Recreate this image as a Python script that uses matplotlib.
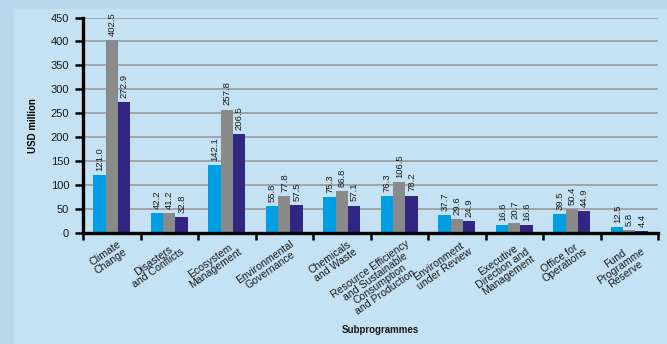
import numpy as np
import matplotlib
matplotlib.use("Agg")
import matplotlib.pyplot as plt
from matplotlib.patches import Rectangle
from matplotlib.transforms import offset_copy

plt.rcParams['font.family'] = ['Liberation Sans', 'DejaVu Sans']

categories = [
    "Climate\nChange",
    "Disasters\nand Conflicts",
    "Ecosystem\nManagement",
    "Environmental\nGovernance",
    "Chemicals\nand Waste",
    "Resource Efficiency\nand Sustainable\nConsumption\nand Production",
    "Environment\nunder Review",
    "Executive\nDirection and\nManagement",
    "Office for\nOperations",
    "Fund\nProgramme\nReserve",
]
series_blue = [121.0, 42.2, 142.1, 55.8, 75.3, 76.3, 37.7, 16.6, 39.5, 12.5]
series_gray = [402.5, 41.2, 257.8, 77.8, 86.8, 106.5, 29.6, 20.7, 50.4, 5.8]
series_dark = [272.9, 32.8, 206.5, 57.5, 57.1, 78.2, 24.9, 16.6, 44.9, 4.4]
y_ticks = [0, 50, 100, 150, 200, 250, 300, 350, 400, 450]

W, H = 667, 344
fig = plt.figure(figsize=(W / 100, H / 100), dpi=100)
fig.patch.set_facecolor('#b8d7ea')

# panel with soft shadow on top and left edges
for i, a in enumerate([0.25, 0.35, 0.5, 0.7]):
    fig.add_artist(Rectangle(((12 + i) / W, 0), 1, (H - 7 - i) / H,
                             transform=fig.transFigure, facecolor='#c4e2f4',
                             edgecolor='none', alpha=a, zorder=-10))
fig.add_artist(Rectangle((16 / W, 0), 1, (H - 10) / H,
                         transform=fig.transFigure, facecolor='#c4e2f4',
                         edgecolor='none', zorder=-9))

ax = fig.add_axes([83 / W, 1 - 233 / H, (658 - 83) / W, (233 - 17.5) / H])
ax.set_facecolor('none')

x = np.arange(len(categories))
bw = 0.214
colors = ['#009fe3', '#8a8a8a', '#312681']
for off, vals, c in zip([-bw, 0, bw], [series_blue, series_gray, series_dark], colors):
    ax.bar(x + off, vals, width=bw, color=c, edgecolor='none', zorder=3)
    for xi, v in zip(x + off, vals):
        ax.annotate(f"{v:.1f}", (xi, v), xytext=(0.3, 3), textcoords='offset points',
                    rotation=90, ha='center', va='bottom', fontsize=6.8, color='#1a1a1a')

ax.set_xlim(-0.5, len(categories) - 0.5)
ax.set_ylim(0, 450)
ax.set_yticks(y_ticks)
ax.set_yticklabels([str(t) for t in y_ticks], fontsize=8, color='#1a1a1a')
ax.grid(axis='y', color='#9a9a9a', linewidth=1.2, zorder=1)
ax.set_axisbelow(True)

ax.set_xticks(np.arange(len(categories) + 1) - 0.5)
ax.set_xticklabels([])
ax.tick_params(axis='x', length=5, width=1.8, direction='out', color='black')
ax.tick_params(axis='y', length=6, width=1.8, direction='out', color='black', pad=4)

for s in ['top', 'right']:
    ax.spines[s].set_visible(False)
for s in ['left', 'bottom']:
    ax.spines[s].set_linewidth(2.4)
    ax.spines[s].set_color('black')
ax.spines['left'].set_zorder(5)
ax.spines['bottom'].set_zorder(5)

lab_tr = offset_copy(ax.get_xaxis_transform(), fig=fig, x=6, y=-6, units='dots')
for xi, lab in zip(x, categories):
    ax.text(xi, 0, lab, transform=lab_tr, rotation=35, rotation_mode='anchor',
            ha='right', va='top', multialignment='center', fontsize=7.6,
            color='#1a1a1a', linespacing=0.88)

ax.set_ylabel("USD million", fontsize=7, fontweight='bold', labelpad=9)
fig.text(380 / W, 1 - 330 / H, "Subprogrammes", fontsize=7, fontweight='bold',
         ha='center', va='center', color='#1a1a1a')

fig.savefig("out.png", dpi=100, facecolor=fig.get_facecolor())
